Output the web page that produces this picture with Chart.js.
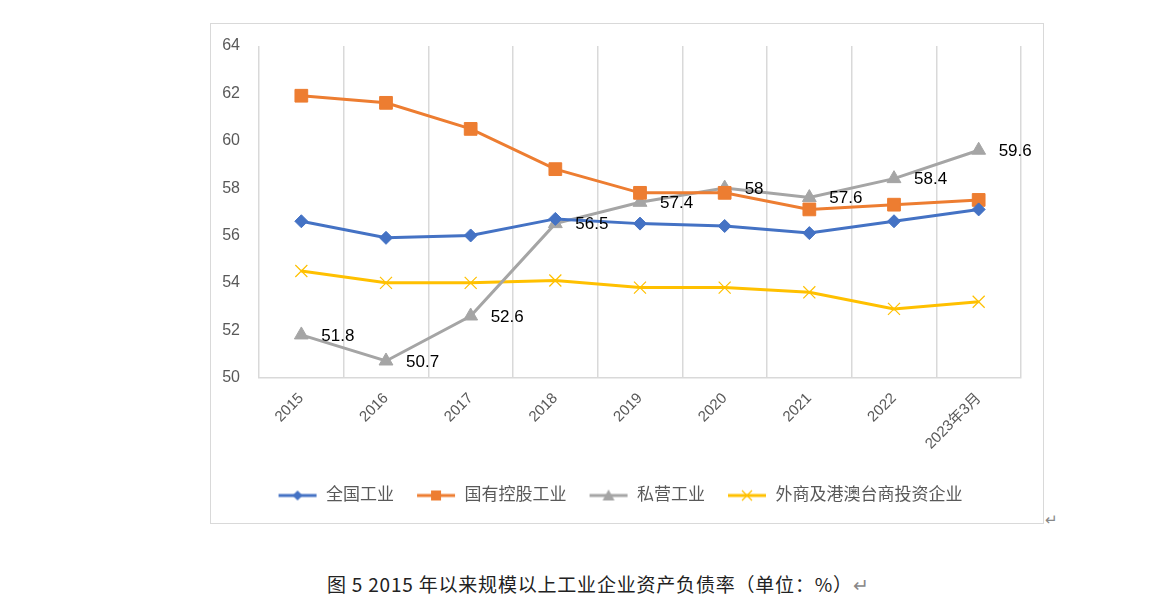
<!DOCTYPE html>
<html>
<head>
<meta charset="utf-8">
<script src="https://cdn.jsdelivr.net/npm/chart.js@4/dist/chart.umd.min.js"></script>
<style>
  body { margin: 0; background: #fff; width: 1156px; height: 616px; position: relative; overflow: hidden; }
  #box { position: absolute; left: 210px; top: 23px; width: 832px; height: 499px; border: 1.5px solid #d9d9d9; }
  #ret { position: absolute; left: 1045px; top: 508px; font: 15px "Noto Sans CJK SC"; color: #888; }
  #caption { position: absolute; left: 327px; top: 570px; white-space: nowrap; font: 19px "Noto Sans CJK SC"; letter-spacing: 0.8px; color: #222; }
  #caption .r { color: #888; }
</style>
</head>
<body>
<div id="box"><canvas id="lineChart" width="832" height="499"></canvas></div>
<div id="ret">↵</div>
<div id="caption">图 5 2015 年以来规模以上工业企业资产负债率（单位：%）<span class="r">↵</span></div>
<script>
// datos
const categorias = ['2015', '2016', '2017', '2018', '2019', '2020', '2021', '2022', '2023年3月'];
const quanguo = [56.6, 55.9, 56.0, 56.7, 56.5, 56.4, 56.1, 56.6, 57.1];
const guoyou = [61.9, 61.6, 60.5, 58.8, 57.8, 57.8, 57.1, 57.3, 57.5];
const siying = [51.8, 50.7, 52.6, 56.5, 57.4, 58.0, 57.6, 58.4, 59.6];
const waishang = [54.5, 54.0, 54.0, 54.1, 53.8, 53.8, 53.6, 52.9, 53.2];
const yTicks = [50, 52, 54, 56, 58, 60, 62, 64];

const fontFam = '"Liberation Sans", "Noto Sans CJK SC", sans-serif';

// icono de leyenda: linea + marcador
function legendIcon(color, style) {
  const c = document.createElement('canvas');
  c.width = 40; c.height = 14;
  const g = c.getContext('2d');
  g.strokeStyle = color; g.fillStyle = color; g.lineWidth = 3;
  g.beginPath(); g.moveTo(1, 7); g.lineTo(39, 7); g.stroke();
  const x = 20, y = 7;
  g.lineWidth = 1.2;
  if (style === 'rectRot') {
    g.beginPath(); g.moveTo(x, y - 5); g.lineTo(x + 5, y); g.lineTo(x, y + 5); g.lineTo(x - 5, y); g.closePath(); g.fill();
  } else if (style === 'rect') {
    g.fillRect(x - 5, y - 5, 10, 10);
  } else if (style === 'triangle') {
    g.beginPath(); g.moveTo(x, y - 6); g.lineTo(x + 6, y + 5); g.lineTo(x - 6, y + 5); g.closePath(); g.fill();
  } else {
    g.beginPath(); g.moveTo(x - 5, y - 5); g.lineTo(x + 5, y + 5); g.moveTo(x + 5, y - 5); g.lineTo(x - 5, y + 5); g.stroke();
  }
  return c;
}

// etiquetas de datos solo para la serie 私营工业
const etiquetas = {
  id: 'etiquetas',
  afterDatasetsDraw(chart) {
    const ctx = chart.ctx;
    const meta = chart.getDatasetMeta(2);
    ctx.save();
    ctx.font = '17px ' + fontFam;
    ctx.fillStyle = '#000';
    ctx.textAlign = 'left';
    ctx.textBaseline = 'middle';
    meta.data.forEach((p, i) => {
      ctx.fillText(String(siying[i]), p.x + 20, p.y + 1);
    });
    ctx.restore();
  }
};

const series = [
  { label: '全国工业', data: quanguo, color: '#4472C4', style: 'rectRot', r: 6.5 },
  { label: '国有控股工业', data: guoyou, color: '#ED7D31', style: 'rect', r: 9 },
  { label: '私营工业', data: siying, color: '#A5A5A5', style: 'triangle', r: 8 },
  { label: '外商及港澳台商投资企业', data: waishang, color: '#FFC000', style: 'crossRot', r: 8.5 },
];

const ctx = document.getElementById('lineChart').getContext('2d');
const chart = new Chart(ctx, {
  type: 'line',
  data: {
    labels: categorias,
    datasets: series.map(s => ({
      label: s.label,
      data: s.data,
      borderColor: s.color,
      backgroundColor: s.color,
      borderWidth: 3,
      pointStyle: s.style,
      pointRadius: s.r,
      pointBorderWidth: s.style === 'crossRot' ? 1.2 : 1,
      tension: 0.0,
      icon: legendIcon(s.color, s.style),
    })),
  },
  options: {
    responsive: false,
    animation: false,
    layout: { padding: { left: 8, right: 22, top: 22, bottom: 9 } },
    plugins: {
      tooltip: { enabled: false },
      legend: {
        position: 'bottom',
        labels: {
          usePointStyle: true,
          pointStyleWidth: 40,
          color: '#595959',
          font: { size: 17, family: fontFam },
          padding: 22,
          generateLabels(chart) {
            return chart.data.datasets.map((d, i) => ({
              text: d.label,
              pointStyle: d.icon,
              fontColor: '#595959',
              datasetIndex: i,
              hidden: false,
              lineWidth: 0,
            }));
          },
        },
      },
    },
    scales: {
      x: {
        offset: true,
        grid: { offset: true, color: '#d9d9d9', lineWidth: 1.5, drawTicks: false },
        border: { color: '#d9d9d9', width: 1.5 },
        ticks: {
          maxRotation: 45, minRotation: 45, padding: 12,
          color: '#595959', font: { size: 15, family: fontFam },
        },
        afterFit(axis) { axis.paddingLeft = 0; },
      },
      y: {
        min: 50, max: 64,
        afterBuildTicks(axis) { axis.ticks = yTicks.map(v => ({ value: v })); },
        afterFit(axis) { axis.width = 40; axis.paddingTop = 0; axis.paddingBottom = 0; },
        grid: { display: false },
        border: { display: false },
        ticks: { color: '#595959', font: { size: 16, family: fontFam }, padding: 11 },
      },
    },
  },
  plugins: [etiquetas],
});
</script>
</body>
</html>
